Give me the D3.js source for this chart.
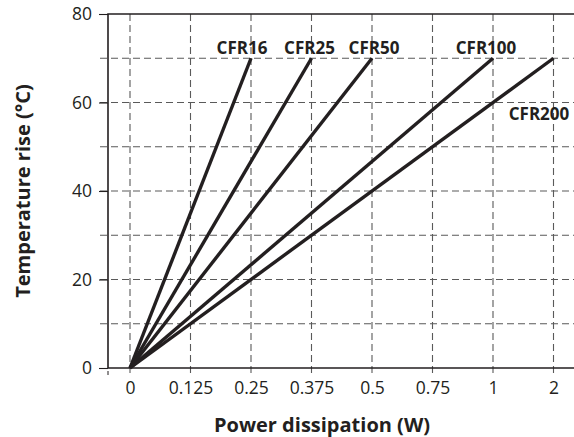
<!DOCTYPE html>
<html>
<head>
<meta charset="utf-8">
<script src="https://cdn.jsdelivr.net/npm/d3@7"></script>
<style>
  body { margin: 0; background: #fff; }
  svg { display: block; font-family: "Open Sans", sans-serif; }
</style>
</head>
<body>
<div id="container"></div>
<script>
// Chart values
const powerTicks = ["0", "0.125", "0.25", "0.375", "0.5", "0.75", "1", "2"];
const tempTicks = [0, 20, 40, 60, 80];
const tempGrid = [10, 20, 30, 40, 50, 60, 70];
const seriesNames = ["CFR16", "CFR25", "CFR50", "CFR100", "CFR200"];
const seriesEndPower = ["0.25", "0.375", "0.5", "1", "2"];
const seriesEndTemp = [70, 70, 70, 70, 70];

const width = 574, height = 437;
const ink = "#231f20";
const gridColor = "#5a5a5a";

// Plot frame
const plotLeft = 108, plotTop = 14, plotBottom = 368, plotRight = 576;

// Power axis is categorical, evenly spaced
const x = d3.scalePoint()
	.domain(powerTicks)
	.range([130, 553.5]);

const y = d3.scaleLinear()
	.domain([0, 80])
	.range([plotBottom, plotTop]);

const svg = d3.create("svg")
	.attr("width", width)
	.attr("height", height)
	.attr("viewBox", [0, 0, width, height]);

// Horizontal dashed grid
svg.append("g")
	.selectAll("line")
	.data(tempGrid)
	.enter()
	.append("line")
	.attr("x1", 100)
	.attr("x2", plotRight)
	.attr("y1", d => y(d))
	.attr("y2", d => y(d))
	.attr("stroke", gridColor)
	.attr("stroke-width", 1.1)
	.attr("stroke-dasharray", "7,4");

// Vertical dashed grid (runs a little below the baseline as ticks)
svg.append("g")
	.selectAll("line")
	.data(powerTicks)
	.enter()
	.append("line")
	.attr("x1", d => x(d))
	.attr("x2", d => x(d))
	.attr("y1", plotTop)
	.attr("y2", plotBottom + 8)
	.attr("stroke", gridColor)
	.attr("stroke-width", 1.1)
	.attr("stroke-dasharray", "7,4");

// Y axis with ticks on the left
const yAxis = svg.append("g")
	.attr("transform", `translate(${plotLeft},0)`)
	.call(d3.axisLeft(y).tickValues(tempTicks).tickSize(9).tickPadding(7));
yAxis.select(".domain").remove();
yAxis.selectAll(".tick line").attr("stroke", ink).attr("stroke-width", 1.1);
yAxis.selectAll(".tick text")
	.attr("fill", ink)
	.style("font-size", "17.5px")
	.style("font-family", "'Open Sans', sans-serif");

// X axis labels
const xAxis = svg.append("g")
	.attr("transform", `translate(0,${plotBottom})`)
	.call(d3.axisBottom(x).tickSize(0).tickPadding(14));
xAxis.select(".domain").remove();
xAxis.selectAll(".tick text")
	.attr("fill", ink)
	.style("font-size", "17.5px")
	.style("font-family", "'Open Sans', sans-serif");

// Frame: left, top and bottom solid lines
svg.append("path")
	.attr("d", `M${plotRight},${plotTop}H${plotLeft}V${plotBottom}H${plotRight}`)
	.attr("fill", "none")
	.attr("stroke", ink)
	.attr("stroke-width", 1.6);

// small tick under the corner
svg.append("line")
	.attr("x1", plotLeft).attr("x2", plotLeft)
	.attr("y1", plotBottom + 3).attr("y2", plotBottom + 7)
	.attr("stroke", ink).attr("stroke-width", 1);

// Series lines from the origin
const series = seriesNames.map((name, i) => ({
	name: name,
	points: [{p: "0", t: 0}, {p: seriesEndPower[i], t: seriesEndTemp[i]}]
}));

const line = d3.line()
	.x(d => x(d.p))
	.y(d => y(d.t));

svg.append("g")
	.selectAll("path")
	.data(series)
	.enter()
	.append("path")
	.attr("d", d => line(d.points))
	.attr("fill", "none")
	.attr("stroke", ink)
	.attr("stroke-width", 3.4)
	.attr("stroke-linecap", "butt");

// Series labels near the line ends
const labelShift = {CFR16: [-9, -4], CFR25: [-2, -4], CFR50: [2, -4], CFR100: [-7, -4], CFR200: [-14.5, 62]};

svg.append("g")
	.selectAll("text")
	.data(series)
	.enter()
	.append("text")
	.attr("x", d => x(d.points[1].p) + labelShift[d.name][0])
	.attr("y", d => y(d.points[1].t) + labelShift[d.name][1])
	.attr("text-anchor", "middle")
	.attr("fill", ink)
	.style("font-size", "17px")
	.style("font-weight", "bold")
	.text(d => d.name);

// Axis titles
svg.append("text")
	.attr("x", 322)
	.attr("y", 432)
	.attr("text-anchor", "middle")
	.attr("fill", ink)
	.style("font-size", "20px")
	.style("font-weight", "bold")
	.text("Power dissipation (W)");

svg.append("text")
	.attr("transform", `translate(30,${(plotTop + plotBottom) / 2}) rotate(-90)`)
	.attr("text-anchor", "middle")
	.attr("fill", ink)
	.style("font-size", "20px")
	.style("font-weight", "bold")
	.text("Temperature rise (°C)");

document.getElementById("container").append(svg.node());
</script>
</body>
</html>
